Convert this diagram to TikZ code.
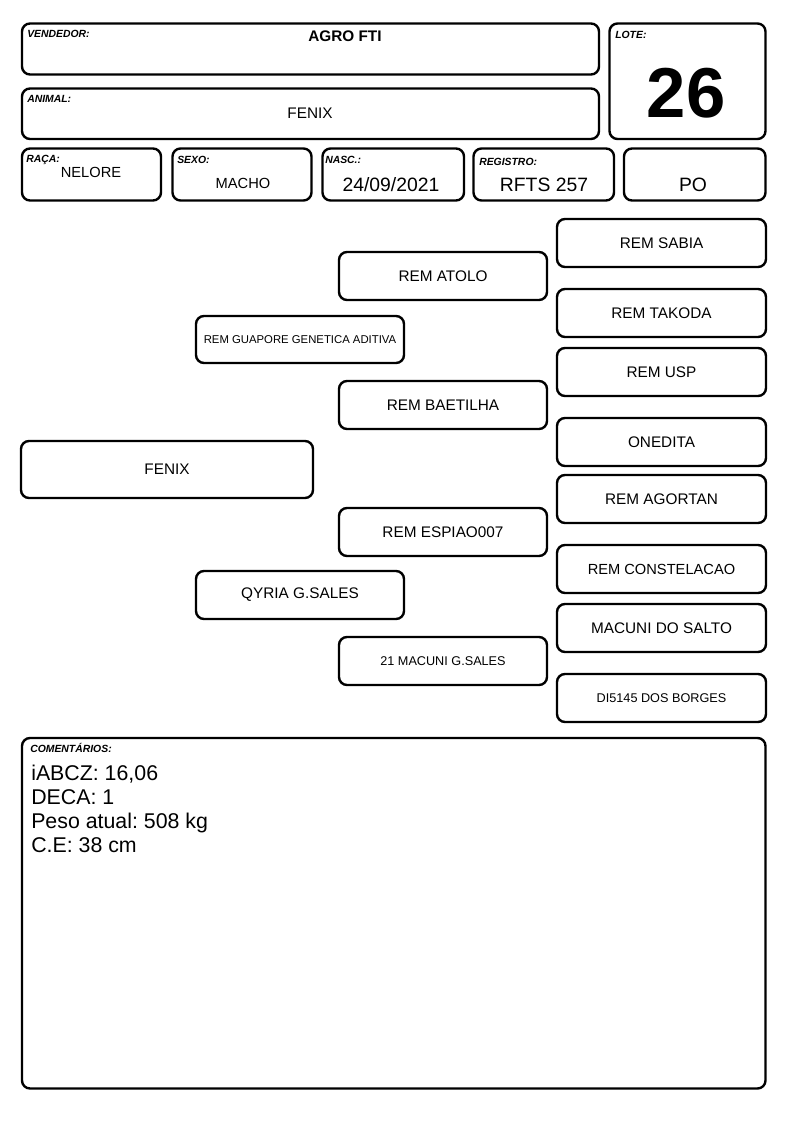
\documentclass[tikz,border=0pt]{standalone}
\usepackage{fontspec}
\setmainfont{Liberation Sans}
\usetikzlibrary{positioning}
\frenchspacing

\tikzset{
  card/.style={line width=1.8pt,rounded corners=6pt},
  lbl/.style={anchor=base west,inner sep=0pt,font=\fontsize{7.8}{9}\selectfont\bfseries\itshape},
  val/.style={anchor=base,inner sep=0pt,font=\fontsize{11}{13}\selectfont},
  big/.style={anchor=base,inner sep=0pt,font=\fontsize{14.5}{16}\selectfont},
  ped/.style={draw,line width=1.8pt,rounded corners=6pt,inner sep=0pt,
    minimum width=156pt,minimum height=36pt,font=\fontsize{11.5}{13}\selectfont},
  note/.style={anchor=base west,inner sep=0pt,font=\fontsize{16}{18}\selectfont},
}

\begin{document}
\begin{tikzpicture}[x=0.75pt,y=-0.75pt]
\useasboundingbox (0,0) rectangle (794,1123);
% header
\draw[card] (22,23.5) rectangle (599,74.5);
\node[lbl] (vendlbl) at (27,38) {VENDEDOR:};
\node[val,font=\fontsize{11.5}{13}\selectfont\bfseries] (vend) at (345,42) {AGRO FTI};
\draw[card] (22,88.5) rectangle (599,139);
\node[lbl] (animlbl) at (27,103) {ANIMAL:};
\node[val,font=\fontsize{11.5}{13}\selectfont] (anim) at (310,119) {FENIX};
\draw[card] (609.5,23.5) rectangle (765.5,139);
\node[lbl] (lotelbl) at (615,39) {LOTE:};
\node[val,font=\fontsize{53}{60}\selectfont\bfseries] (lote) at (686,118) {26};
% row of data
\draw[card] (22,148.5) rectangle (161,200.5);
\node[lbl] (racalbl) at (26,163) {RAÇA:};
\node[val] (raca) at (91,178) {NELORE};
\draw[card] (172.5,148.5) rectangle (311.5,200.5);
\node[lbl] (sexolbl) at (177,164) {SEXO:};
\node[val] (sexo) at (243,189) {MACHO};
\draw[card] (322.5,148.5) rectangle (464,200.5);
\node[lbl] (nasclbl) at (325,164) {NASC.:};
\node[big] (nasc) at (391,192) {24/09/2021};
\draw[card] (473.5,148.5) rectangle (614,200.5);
\node[lbl] (reglbl) at (479,166) {REGISTRO:};
\node[big] (reg) at (544,192) {RFTS 257};
\draw[card] (624,148.5) rectangle (765.5,200.5);
\node[big] (cat) at (693,192) {PO};
% pedigree
\node[ped,minimum width=219pt,minimum height=42.75pt] (animal) at (167,469.5) {FENIX};
\node[ped,minimum height=35.25pt,font=\fontsize{8.5}{10}\selectfont] (pai) at (300,339.5) {REM GUAPORE GENETICA ADITIVA};
\node[ped] (mae) at (300,595) {QYRIA G.SALES};
\node[ped] (avopp) at (443,276) {REM ATOLO};
\node[ped] (avopm) at (443,405) {REM BAETILHA};
\node[ped] (avomp) at (443,532) {REM ESPIAO007};
\node[ped,font=\fontsize{9.5}{11}\selectfont] (avomm) at (443,661) {21 MACUNI G.SALES};
\node[ped,minimum width=156.75pt] (bis1) at (661.5,243) {REM SABIA};
\node[ped,minimum width=156.75pt] (bis2) at (661.5,313) {REM TAKODA};
\node[ped,minimum width=156.75pt] (bis3) at (661.5,372) {REM USP};
\node[ped,minimum width=156.75pt] (bis4) at (661.5,442) {ONEDITA};
\node[ped,minimum width=156.75pt] (bis5) at (661.5,499) {REM AGORTAN};
\node[ped,minimum width=156.75pt,font=\fontsize{11}{13}\selectfont] (bis6) at (661.5,569) {REM CONSTELACAO};
\node[ped,minimum width=156.75pt] (bis7) at (661.5,628) {MACUNI DO SALTO};
\node[ped,minimum width=156.75pt,font=\fontsize{9.5}{11}\selectfont] (bis8) at (661.5,698) {DI5145 DOS BORGES};
% comments
\draw[card] (22,738) rectangle (765.5,1088.5);
\node[lbl] (comlbl) at (30,752) {COMENTÁRIOS:};
\node[note] (com1) at (31,780) {iABCZ: 16,06};
\node[note] (com2) at (31,804) {DECA: 1};
\node[note] (com3) at (31,828) {Peso atual: 508 kg};
\node[note] (com4) at (31,852) {C.E: 38 cm};
\end{tikzpicture}
\end{document}
